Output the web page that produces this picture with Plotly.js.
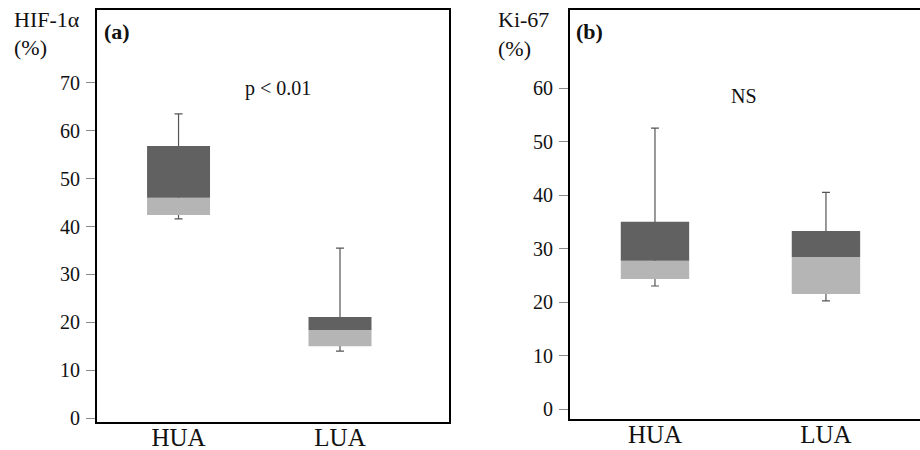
<!DOCTYPE html>
<html><head><meta charset="utf-8">
<script src="https://cdn.plot.ly/plotly-3.0.1.min.js"></script>
<style>body{margin:0;background:#fff}#chart{width:920px;height:450px}</style>
</head><body><div id="chart"></div>
<script>
// Categories
const groups = ['HUA', 'LUA'];
// Panel (a): HIF-1α (%)
const hifMin = [41.6, 14.0];
const hifQ1 = [42.4, 15.0];
const hifMedian = [46.0, 18.4];
const hifQ3 = [56.8, 21.1];
const hifMax = [63.5, 35.5];
// Panel (b): Ki-67 (%)
const kiMin = [23.0, 20.2];
const kiQ1 = [24.3, 21.5];
const kiMedian = [27.7, 28.4];
const kiQ3 = [35.0, 33.3];
const kiMax = [52.5, 40.5];
// Tick labels
const hifTicks = [0, 10, 20, 30, 40, 50, 60, 70];
const kiTicks = [0, 10, 20, 30, 40, 50, 60];

const FONT = 'Liberation Serif, Times New Roman, serif';
const DARK = '#616161';
const LIGHT = '#b5b5b5';
const WHISK = '#555555';

function boxTraces(mn, q1, med, q3, mx, xa, ya, w) {
  const diff = (a, b) => a.map((v, i) => v - b[i]);
  const zeros = mn.map(() => 0);
  return [
    { type: 'bar', x: groups, base: mn, y: diff(mx, mn), width: w, xaxis: xa, yaxis: ya,
      marker: { color: 'rgba(0,0,0,0)', line: { width: 0 } },
      error_y: { type: 'data', symmetric: false, array: zeros, arrayminus: diff(mx, mn),
                 color: WHISK, thickness: 1.2, width: 4 },
      hoverinfo: 'skip', showlegend: false },
    { type: 'bar', x: groups, base: q1, y: diff(med, q1), width: w, xaxis: xa, yaxis: ya,
      marker: { color: LIGHT, line: { width: 0 } }, hoverinfo: 'skip', showlegend: false },
    { type: 'bar', x: groups, base: med, y: diff(q3, med), width: w, xaxis: xa, yaxis: ya,
      marker: { color: DARK, line: { width: 0 } }, hoverinfo: 'skip', showlegend: false }
  ];
}

const data = [].concat(
  boxTraces(hifMin, hifQ1, hifMedian, hifQ3, hifMax, 'x', 'y', 0.39),
  boxTraces(kiMin, kiQ1, kiMedian, kiQ3, kiMax, 'x2', 'y2', 0.40)
);

const W = 920, H = 450;
const px = v => v / W, py = v => 1 - v / H;

const yBase = (vals, range, domain, anchor, mirror) => ({
  domain: domain, range: range, anchor: anchor, tickvals: vals, ticktext: vals.map(String),
  ticks: 'outside', ticklen: 9, tickwidth: 1, tickcolor: '#8a8a8a',
  tickfont: { family: FONT, size: 20, color: '#111' }, ticklabelstandoff: 2,
  showline: true, linecolor: '#000', linewidth: 2, mirror: mirror,
  showgrid: false, zeroline: false, fixedrange: true
});
const xBase = (range, domain, anchor) => ({
  domain: domain, range: range, anchor: anchor, type: 'category',
  ticks: '', tickfont: { family: FONT, size: 25, color: '#111' }, ticklabelstandoff: -8,
  showline: true, linecolor: '#000', linewidth: 2, mirror: true,
  showgrid: false, zeroline: false, fixedrange: true
});

const ann = (text, x, y, size, extra) => Object.assign({
  text: text, xref: 'paper', yref: 'paper', x: px(x), y: py(y),
  showarrow: false, font: { family: FONT, size: size, color: '#111' },
  xanchor: 'left', yanchor: 'middle'
}, extra || {});

const layout = {
  width: W, height: H, margin: { l: 0, r: 0, t: 0, b: 0 },
  paper_bgcolor: '#fff', plot_bgcolor: '#fff', barmode: 'overlay', showlegend: false,
  xaxis: xBase([-0.505, 1.675], [px(97), px(449)], 'y'),
  yaxis: yBase(hifTicks, [-0.8, 85.2], [py(422), py(10)], 'x', true),
  xaxis2: xBase([-0.497, 1.55], [px(570), 1], 'y2'),
  yaxis2: yBase(kiTicks, [-1.87, 74.6], [py(419), py(10)], 'x2', false),
  annotations: [
    ann('HIF-1α', 12, 20, 22),
    ann('(%)', 12, 47, 22),
    ann('<b>(a)</b>', 102, 31, 22),
    ann('p &lt; 0.01', 243, 88, 20),
    ann('Ki-67', 496, 20, 22),
    ann('(%)', 496, 48, 22),
    ann('<b>(b)</b>', 574, 31, 22),
    ann('NS', 729, 96, 20)
  ]
};

Plotly.newPlot('chart', data, layout, { displayModeBar: false, staticPlot: true });
</script>
</body></html>
